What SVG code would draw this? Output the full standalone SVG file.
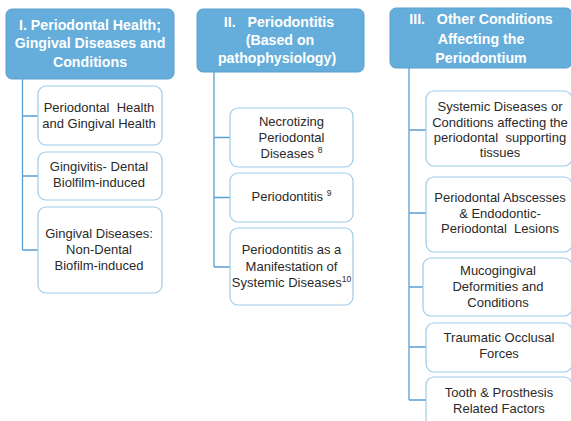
<svg xmlns="http://www.w3.org/2000/svg" width="571" height="421" viewBox="0 0 571 421">
<style>
.hdr{fill:#65aedb;stroke:#5a9fcf;stroke-width:1}
.box{fill:#ffffff;stroke:#9fcbe8;stroke-width:1.2}
.ht{font-family:"Liberation Sans",Arial,sans-serif;font-size:14.2px;font-weight:bold;fill:#ffffff;text-anchor:middle}
.bt{font-family:"Liberation Sans",Arial,sans-serif;font-size:13px;fill:#2a2a2a;text-anchor:middle}
.sup{font-size:8.5px}
.con{stroke:#5b9fd3;stroke-width:1.3;fill:none}
</style>
<rect width="571" height="421" fill="#ffffff"/>
<g id="connectors">
<path class="con" d="M22.5 79V250M22.5 116H38M22.5 176H38M22.5 250H38"/>
<path class="con" d="M214 72V267M214 137.5H230M214 197.5H230M214 267H230"/>
<path class="con" d="M409 68V400M409 130H426M409 213H426M409 287H423M409 347H426M409 400H426"/>
</g>
<g id="h1">
<rect class="hdr" x="6" y="9" width="168" height="70" rx="6"/>
<text class="ht" x="90" y="29.5">I. Periodontal Health;</text>
<text class="ht" x="90" y="48">Gingival Diseases and</text>
<text class="ht" x="90" y="66.5">Conditions</text>
</g>
<g id="h2">
<rect class="hdr" x="197" y="9" width="167" height="63" rx="6"/>
<text class="ht" x="279" y="27" xml:space="preserve">II.   Periodontitis</text>
<text class="ht" x="280" y="45">(Based on</text>
<text class="ht" x="277" y="63">pathophysiology)</text>
</g>
<g id="h3">
<rect class="hdr" x="390" y="8" width="182" height="60" rx="6"/>
<text class="ht" x="481" y="24" xml:space="preserve">III.   Other Conditions</text>
<text class="ht" x="481" y="43.5">Affecting the</text>
<text class="ht" x="481" y="63">Periodontium</text>
</g>
<g id="n1a">
<rect class="box" x="38" y="86" width="124" height="59" rx="8"/>
<text class="bt" x="99" y="111.5" xml:space="preserve">Periodontal  Health</text>
<text class="bt" x="99" y="128">and Gingival Health</text>
</g>
<g id="n1b">
<rect class="box" x="38" y="152" width="124" height="48" rx="8"/>
<text class="bt" x="99" y="171">Gingivitis- Dental</text>
<text class="bt" x="99" y="187">Biolfilm-induced</text>
</g>
<g id="n1c">
<rect class="box" x="38" y="207" width="124" height="86" rx="8"/>
<text class="bt" x="99" y="237.5">Gingival Diseases:</text>
<text class="bt" x="99" y="254">Non-Dental</text>
<text class="bt" x="99" y="270">Biofilm-induced</text>
</g>
<g id="n2a">
<rect class="box" x="230" y="108" width="123" height="59" rx="8"/>
<text class="bt" x="291.5" y="126">Necrotizing</text>
<text class="bt" x="291.5" y="141.5">Periodontal</text>
<text class="bt" x="291.5" y="157.5">Diseases <tspan class="sup" dy="-5">8</tspan></text>
</g>
<g id="n2b">
<rect class="box" x="230" y="173" width="123" height="49" rx="8"/>
<text class="bt" x="291.5" y="201">Periodontitis  <tspan class="sup" dy="-5">9</tspan></text>
</g>
<g id="n2c">
<rect class="box" x="230" y="228" width="123" height="77" rx="8"/>
<text class="bt" x="291.5" y="254">Periodontitis as a</text>
<text class="bt" x="291.5" y="271">Manifestation of</text>
<text class="bt" x="291.5" y="287">Systemic Diseases<tspan class="sup" dy="-5">10</tspan></text>
</g>
<g id="n3a">
<rect class="box" x="426" y="91" width="146" height="75" rx="8"/>
<text class="bt" x="500" y="110.5">Systemic Diseases or</text>
<text class="bt" x="500" y="126.5">Conditions affecting the</text>
<text class="bt" x="500" y="141.5" xml:space="preserve">periodontal  supporting</text>
<text class="bt" x="500" y="157">tissues</text>
</g>
<g id="n3b">
<rect class="box" x="426" y="177" width="146" height="75" rx="8"/>
<text class="bt" x="500" y="201.5">Periodontal Abscesses</text>
<text class="bt" x="500" y="217.5">&amp; Endodontic-</text>
<text class="bt" x="500" y="232.5" xml:space="preserve">Periodontal  Lesions</text>
</g>
<g id="n3c">
<rect class="box" x="423" y="258" width="149" height="58" rx="8"/>
<text class="bt" x="498" y="274.5">Mucogingival</text>
<text class="bt" x="498" y="291">Deformities and</text>
<text class="bt" x="498" y="306.5">Conditions</text>
</g>
<g id="n3d">
<rect class="box" x="426" y="323" width="146" height="49" rx="8"/>
<text class="bt" x="499" y="341.5">Traumatic Occlusal</text>
<text class="bt" x="499" y="357.5">Forces</text>
</g>
<g id="n3e">
<rect class="box" x="426" y="377" width="146" height="60" rx="8"/>
<text class="bt" x="499" y="396.5">Tooth &amp; Prosthesis</text>
<text class="bt" x="499" y="412.5">Related Factors</text>
</g>
</svg>
